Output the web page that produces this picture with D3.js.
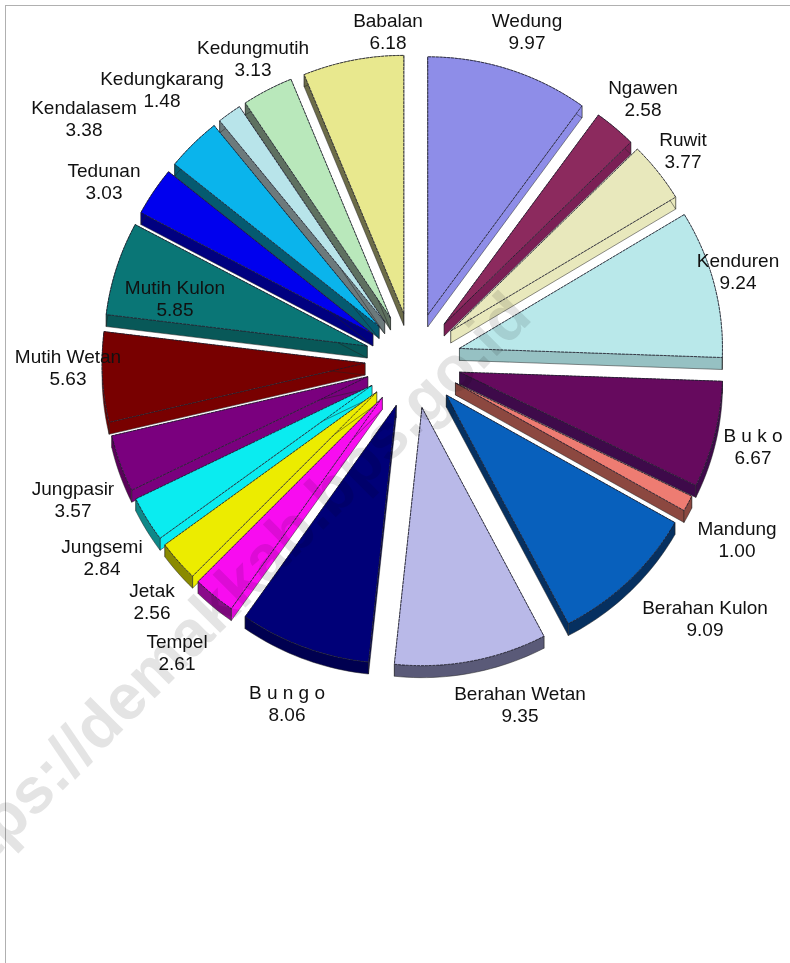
<!DOCTYPE html>
<html>
<head>
<meta charset="utf-8">
<script src="https://cdn.jsdelivr.net/npm/d3@7"></script>
<style>
  html, body { margin: 0; padding: 0; background: #fff; overflow: hidden; }
  text { font-family: "Liberation Sans", Arial, sans-serif; }
</style>
</head>
<body>
<div id="wrapper"></div>
<script>
// clockwise from 12 o'clock
let names = ['Wedung', 'Ngawen', 'Ruwit', 'Kenduren', 'B u k o', 'Mandung', 'Berahan Kulon', 'Berahan Wetan',
    'B u n g o', 'Tempel', 'Jetak', 'Jungsemi', 'Jungpasir', 'Mutih Wetan', 'Mutih Kulon', 'Tedunan',
    'Kendalasem', 'Kedungkarang', 'Kedungmutih', 'Babalan'];
let values = [9.97, 2.58, 3.77, 9.24, 6.67, 1.00, 9.09, 9.35, 8.06, 2.61, 2.56, 2.84, 3.57, 5.63, 5.85, 3.03, 3.38, 1.48, 3.13, 6.18];

let topColors = ['#8e8de8', '#8c2a5e', '#e8e8bc', '#b9e8ea', '#660a5e', '#ee7c72', '#0860bc', '#b9b9e8',
    '#000078', '#f80cf0', '#ecec00', '#0aecf0', '#7a007e', '#780000', '#0a7676', '#0000ee',
    '#0ab4ec', '#b8e4ea', '#b9e8bb', '#e8e88e'];
let rimColors = ['#8e8de8', '#7b1f55', '#e8e8bc', '#96c1c3', '#3e0a4a', '#8c4840', '#063060', '#5a5a78',
    '#000050', '#8a0a8a', '#8a8a00', '#0e8888', '#5a005a', '#6e0000', '#085858', '#000080',
    '#055a70', '#6c7a7c', '#5e7060', '#6c6c48'];
let sideColors = ['#8e8de8', '#7b1f55', '#e8e8bc', '#96c1c3', '#3e0a4a', '#8c4840', '#063060', '#5a5a78',
    '#000050', '#f80cf0', '#ecec00', '#0aecf0', '#7a007e', '#780000', '#085858', '#000080',
    '#055a70', '#6c7a7c', '#5e7060', '#6c6c48'];

// label anchor: centre x, first baseline
let labelSpots = {
    'Wedung': [527, 27], 'Ngawen': [643, 94], 'Ruwit': [683, 146], 'Kenduren': [738, 267],
    'B u k o': [753, 442], 'Mandung': [737, 535], 'Berahan Kulon': [705, 614], 'Berahan Wetan': [520, 700],
    'B u n g o': [287, 699], 'Tempel': [177, 648], 'Jetak': [152, 597], 'Jungsemi': [102, 553],
    'Jungpasir': [73, 495], 'Mutih Wetan': [68, 363], 'Mutih Kulon': [175, 294], 'Tedunan': [104, 177],
    'Kendalasem': [84, 114], 'Kedungkarang': [162, 85], 'Kedungmutih': [253, 54], 'Babalan': [388, 27]
};

let width = 790, height = 963;
let cx = 413, cy = 360.5, rx = 263, ry = 258, blast = 48, depth = 12;

let svg = d3.select('#wrapper').append('svg').attr('width', width).attr('height', height).style('display', 'block');

// frame runs off the page on the right and bottom
svg.append('rect').attr('x', 5.5).attr('y', 5.5).attr('width', width + 20).attr('height', height + 20)
    .attr('fill', 'none').attr('stroke', '#b0b0b0').attr('stroke-width', 1);

let pie = d3.pie().sort(null).value(d => d.value);
let rows = names.map((n, i) => ({ name: n, value: values[i], top: topColors[i], rim: rimColors[i], side: sideColors[i] }));
let slices = pie(rows).map(s => {
    s.mid = (s.startAngle + s.endAngle) / 2;
    s.tipX = cx + blast * Math.sin(s.mid);
    s.tipY = cy - blast * Math.cos(s.mid);
    let n = Math.max(2, Math.ceil((s.endAngle - s.startAngle) * 40));
    s.outer = d3.range(n + 1).map(k => {
        let a = s.startAngle + (s.endAngle - s.startAngle) * k / n;
        return [s.tipX + rx * Math.sin(a), s.tipY - ry * Math.cos(a)];
    });
    return s;
});

let wall = d3.area().x(d => d[0]).y0(d => d[1]).y1(d => d[1] + depth);
let face = d3.line();

// back to front so the lower slices cover the walls of the upper ones
let drawOrder = slices.slice().sort((a, b) => Math.cos(b.mid) - Math.cos(a.mid));

let groups = svg.append('g').classed('pie', true).selectAll('g').data(drawOrder).enter().append('g');

groups.append('path').attr('d', d => wall([[d.tipX, d.tipY], d.outer[0]]))
    .attr('fill', d => d.data.side).attr('stroke', '#222').attr('stroke-width', 0.5);
groups.append('path').attr('d', d => wall([[d.tipX, d.tipY], d.outer[d.outer.length - 1]]))
    .attr('fill', d => d.data.side).attr('stroke', '#222').attr('stroke-width', 0.5);
groups.append('path').attr('d', d => wall(d.outer))
    .attr('fill', d => d.data.rim).attr('stroke', '#222').attr('stroke-width', 0.5);
groups.append('path').attr('d', d => face([[d.tipX, d.tipY]].concat(d.outer)) + 'Z')
    .attr('fill', d => d.data.top).attr('stroke', '#1c1c2c').attr('stroke-width', 0.8)
    .attr('stroke-dasharray', '3 0.8');

let labels = svg.append('g').classed('labels', true).selectAll('text').data(slices).enter().append('text')
    .attr('text-anchor', 'middle').attr('fill', '#111').attr('font-size', 19)
    .attr('x', d => labelSpots[d.data.name][0]).attr('y', d => labelSpots[d.data.name][1]);
labels.append('tspan').text(d => d.data.name);
labels.append('tspan').attr('x', d => labelSpots[d.data.name][0]).attr('dy', 22).text(d => d.data.value.toFixed(2));

// site watermark across the page
svg.append('text').text('https://demakkab.bps.go.id')
    .attr('transform', 'translate(-52,905) rotate(-45)')
    .attr('font-size', 64).attr('font-weight', 'bold').attr('fill', '#e4e4e4')
    .style('mix-blend-mode', 'multiply');
</script>
</body>
</html>
